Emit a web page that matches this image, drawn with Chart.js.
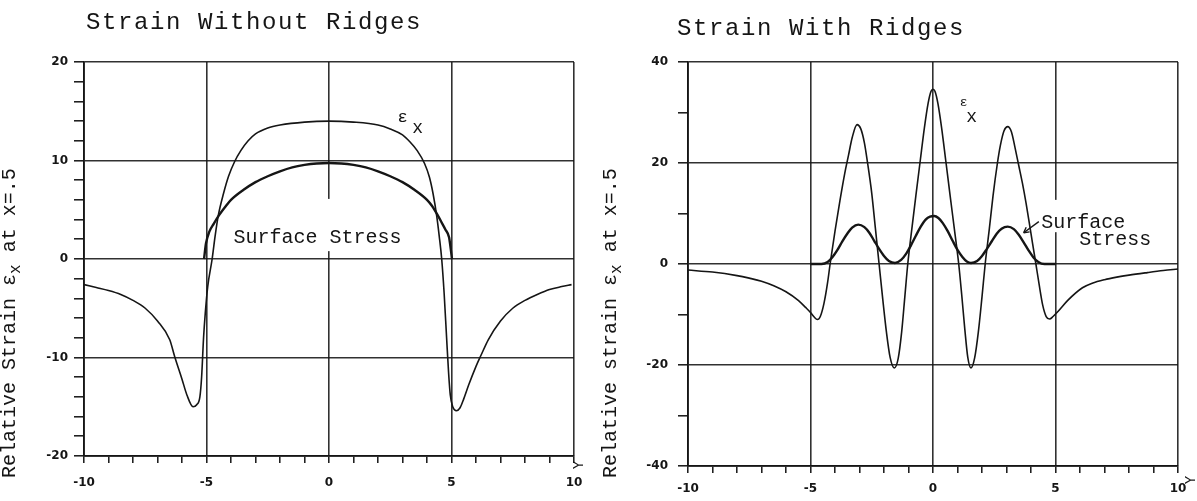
<!DOCTYPE html>
<html>
<head>
<meta charset="utf-8">
<title>Strain Without / With Ridges</title>
<script src="https://cdn.jsdelivr.net/npm/chart.js@4.4.1/dist/chart.umd.min.js"></script>
<style>
  html, body { margin: 0; padding: 0; background: #fff; }
  #wrap { position: relative; width: 1197px; height: 501px; overflow: hidden; background: #fff; }
  .panel { position: absolute; top: 0; }
</style>
</head>
<body>
<div id="wrap">
  <canvas id="noRidges" class="panel" style="left:0" width="600" height="501"></canvas>
  <canvas id="withRidges" class="panel" style="left:600px" width="597" height="501"></canvas>
</div>
<script>
// ---- strain without ridges (left) ----
const plainY = [-10, -9.5, -9, -8.5, -8, -7.5, -7, -6.5, -6.3, -6, -5.8, -5.55, -5.4, -5.27, -5.2, -5.12,
  -5.05, -4.95, -4.77, -4.65, -4.52, -4.3, -4.1, -3.85, -3.6, -3.3, -3, -2.5, -2, -1, 0, 1, 2, 2.5, 3,
  3.3, 3.6, 3.9, 4.1, 4.25, 4.4, 4.5, 4.6, 4.7, 4.8, 4.88, 4.95, 5.05, 5.2, 5.35, 5.5, 5.7, 6, 6.2,
  6.5, 7, 7.5, 8, 8.5, 9, 9.5, 9.9];
const plainStrain = [-2.6, -2.9, -3.2, -3.6, -4.2, -5.0, -6.3, -8.2, -9.9, -12.2, -13.8, -15.0, -14.8, -14.0, -12.0, -8.0,
  -5.5, -2.8, 0, 2.3, 4.4, 6.7, 8.4, 9.9, 11.0, 12.0, 12.7, 13.3, 13.6, 13.9, 14.0, 13.9, 13.6, 13.2, 12.6,
  11.9, 11.0, 9.7, 8.3, 6.6, 4.3, 2.3, 0, -3.5, -8.0, -11.5, -13.8, -15.0, -15.4, -15.1, -14.2, -12.8, -10.9, -9.8,
  -8.2, -6.3, -5.0, -4.2, -3.6, -3.1, -2.8, -2.6];
const plainStressY = [-5.1, -5.02, -4.88, -4.7, -4.5, -4.2, -4, -3.5, -3, -2.5, -2, -1.5, -1, -0.5, 0,
  0.5, 1, 1.5, 2, 2.5, 3, 3.5, 4, 4.2, 4.4, 4.6, 4.75, 4.9, 4.97, 5.02];
const plainStress = [0, 1.6, 2.8, 3.6, 4.4, 5.4, 6.0, 7.0, 7.8, 8.4, 8.9, 9.3, 9.55, 9.7, 9.75,
  9.7, 9.55, 9.3, 8.9, 8.4, 7.8, 7.0, 6.0, 5.4, 4.6, 3.7, 3.0, 2.2, 1.0, 0];

// ---- strain with ridges (right) ----
const ridgeY = [-10, -9, -8, -7.5, -7, -6.5, -6, -5.5, -5.2, -5, -4.85, -4.72, -4.6, -4.45, -4.3, -4.2,
  -4, -3.8, -3.6, -3.45, -3.3, -3.1, -2.95, -2.8, -2.67, -2.5, -2.35, -2.2, -2.05, -1.9, -1.75, -1.58,
  -1.42, -1.28, -1.15, -1.03, -0.85, -0.7, -0.52, -0.35, -0.2, -0.08, 0, 0.08, 0.2, 0.35, 0.52, 0.7,
  0.87, 1.05, 1.17, 1.3, 1.42, 1.55, 1.7, 1.85, 2, 2.13, 2.3, 2.45, 2.63, 2.75, 2.9, 3.05, 3.2, 3.35,
  3.5, 3.65, 3.8, 4, 4.2, 4.33, 4.48, 4.62, 4.76, 4.9, 5.1, 5.5, 6.1, 6.5, 7, 7.5, 8, 8.75, 9.4, 10];
const ridgeStrain = [-1.2, -1.6, -2.3, -2.8, -3.4, -4.3, -5.5, -7.2, -8.6, -9.6, -10.5, -11.0, -10.4, -7.8, -3.6, 0,
  6.5, 12.5, 18.0, 21.5, 25.0, 27.6, 26.8, 24.0, 20.0, 14.0, 7.0, 0, -7.0, -13.5, -18.5, -20.6,
  -18.7, -13.5, -6.5, 0, 7.5, 13.5, 20.5, 27.0, 31.8, 34.2, 34.6, 34.2, 31.8, 27.0, 20.5, 13.5,
  7.0, 0, -6.0, -13.0, -18.5, -20.6, -18.6, -13.5, -6.5, 0, 7.0, 13.5, 20.0, 23.5, 26.4, 27.2, 26.2, 23.0,
  19.5, 16.0, 12.0, 6.0, 0, -4.0, -8.2, -10.4, -10.9, -10.4, -9.4, -7.2, -4.7, -3.8, -3.1, -2.6, -2.2, -1.7, -1.3, -1.0];
const ridgeStressY = [-5, -4.55, -4.3, -4.1, -3.9, -3.7, -3.5, -3.3, -3.05, -2.8, -2.6, -2.4, -2.2, -2, -1.8,
  -1.55, -1.3, -1.1, -0.9, -0.7, -0.5, -0.3, -0.12, 0.05, 0.22, 0.4, 0.6, 0.8, 1, 1.2, 1.38, 1.55,
  1.8, 2, 2.2, 2.4, 2.6, 2.8, 3.05, 3.3, 3.5, 3.7, 3.9, 4.1, 4.3, 4.55, 5];
const ridgeStress = [0, 0, 0.4, 1.4, 2.8, 4.5, 6.0, 7.2, 7.8, 7.3, 6.2, 4.6, 3.0, 1.6, 0.6,
  0.2, 0.8, 2.0, 3.7, 5.6, 7.4, 8.8, 9.4, 9.5, 9.1, 8.1, 6.5, 4.6, 2.8, 1.4, 0.5, 0.2,
  0.6, 1.6, 3.0, 4.5, 6.0, 7.0, 7.4, 6.9, 5.8, 4.3, 2.7, 1.3, 0.4, 0, 0];

// ---- tick labels ----
const xMajor = [-10, -5, 0, 5, 10];
const plainYMajor = [-20, -10, 0, 10, 20];
const ridgeYMajor = [-40, -20, 0, 20, 40];

const INK = '#151515';
const GRID = 'rgba(20,20,20,0.88)';
const MONO = '"Liberation Mono", "DejaVu Sans Mono", monospace';
const tickFont = { family: '"DejaVu Sans", sans-serif', size: 12, weight: 'bold' };

function points(xs, ys) {
  return xs.map((x, i) => ({ x: x, y: ys[i] }));
}

function range(lo, hi, step) {
  const out = [];
  for (let i = 0; i <= Math.round((hi - lo) / step); i++) out.push(lo + i * step);
  return out;
}

// rotated y axis title with the subscript x
function drawAxisTitle(ctx, x, yStart, lead, tail) {
  ctx.save();
  ctx.translate(x, yStart);
  ctx.rotate(-Math.PI / 2);
  ctx.fillStyle = INK;
  ctx.textBaseline = 'middle';
  ctx.textAlign = 'left';
  ctx.font = '20px ' + MONO;
  ctx.fillText(lead, 0, 0);
  let cx = ctx.measureText(lead).width;
  ctx.fillText('ε', cx, 0);
  cx += ctx.measureText('ε').width;
  ctx.font = '16px ' + MONO;
  ctx.fillText('x', cx, 6);
  cx += ctx.measureText('x').width;
  ctx.font = '20px ' + MONO;
  ctx.fillText(tail, cx, 0);
  ctx.restore();
}

function decorations(cfg) {
  return {
    id: 'paperDecor',
    afterDraw(chart) {
      const ctx = chart.ctx;
      const sx = chart.scales.x, sy = chart.scales.y;
      const px = (v) => sx.getPixelForValue(v);
      const py = (v) => sy.getPixelForValue(v);
      ctx.save();

      // the typed label interrupts one vertical grid line
      if (cfg.gridGap) {
        const g = cfg.gridGap;
        ctx.fillStyle = '#fff';
        ctx.fillRect(px(g.x) - 3, py(g.from), 6, py(g.to) - py(g.from));
      }

      ctx.fillStyle = INK;
      ctx.strokeStyle = INK;

      // panel title
      ctx.font = '24px ' + MONO;
      ctx.letterSpacing = '1.6px';
      ctx.textBaseline = 'alphabetic';
      ctx.textAlign = 'left';
      ctx.fillText(cfg.title, cfg.titleX, cfg.titleY);
      ctx.letterSpacing = '0px';

      drawAxisTitle(ctx, cfg.axisTitleX, 478, cfg.axisLead, ' at x=.5');

      // epsilon-x label on the strain curve
      ctx.textAlign = 'center';
      ctx.textBaseline = 'middle';
      ctx.font = cfg.epsSize + 'px ' + MONO;
      ctx.fillText('ε', px(cfg.eps[0]), py(cfg.eps[1]));
      ctx.font = '18px ' + MONO;
      ctx.fillText('x', px(cfg.epsSub[0]), py(cfg.epsSub[1]));

      // surface stress label
      ctx.textAlign = 'left';
      ctx.font = '20px ' + MONO;
      cfg.stressText.forEach((t) => ctx.fillText(t.text, px(t.at[0]), py(t.at[1])));

      if (cfg.arrow) {
        const [x0, y0, x1, y1] = [px(cfg.arrow[0]), py(cfg.arrow[1]), px(cfg.arrow[2]), py(cfg.arrow[3])];
        ctx.lineWidth = 1.4;
        ctx.beginPath();
        ctx.moveTo(x0, y0);
        ctx.lineTo(x1, y1);
        ctx.stroke();
        const a = Math.atan2(y1 - y0, x1 - x0);
        ctx.beginPath();
        ctx.moveTo(x1, y1);
        ctx.lineTo(x1 - 6 * Math.cos(a - 0.5), y1 - 6 * Math.sin(a - 0.5));
        ctx.moveTo(x1, y1);
        ctx.lineTo(x1 - 6 * Math.cos(a + 0.5), y1 - 6 * Math.sin(a + 0.5));
        ctx.stroke();
      }

      // small rotated "Y" next to the x axis end
      ctx.save();
      ctx.translate(cfg.yMark[0], cfg.yMark[1]);
      ctx.rotate(-Math.PI / 2);
      ctx.font = '14px ' + MONO;
      ctx.textAlign = 'center';
      ctx.fillText('Y', 0, 0);
      ctx.restore();

      ctx.restore();
    }
  };
}

function createPanel(canvas, cfg) {
  const isMajor = (tick, list) => tick && list.includes(tick.value);
  return new Chart(canvas, {
    type: 'line',
    data: {
      datasets: [
        {
          label: 'εx',
          data: points(cfg.strainX, cfg.strainV),
          borderColor: INK,
          borderWidth: 1.6,
          pointRadius: 0,
          cubicInterpolationMode: 'monotone',
          fill: false
        },
        {
          label: 'Surface Stress',
          data: points(cfg.stressX, cfg.stressV),
          borderColor: INK,
          borderWidth: 2.4,
          pointRadius: 0,
          cubicInterpolationMode: 'monotone',
          fill: false
        }
      ]
    },
    options: {
      responsive: false,
      animation: false,
      events: [],
      layout: { padding: { left: 0, top: 62, right: cfg.padRight, bottom: 0 } },
      plugins: { legend: { display: false }, tooltip: { enabled: false } },
      scales: {
        x: {
          type: 'linear',
          min: -10,
          max: 10,
          afterBuildTicks: (s) => { s.ticks = range(-10, 10, 1).map((v) => ({ value: v })); },
          afterFit: (s) => { s.height = cfg.xHeight; },
          grid: {
            color: (c) => isMajor(c.tick, xMajor) ? GRID : 'transparent',
            lineWidth: 1.6,
            drawTicks: true,
            tickColor: INK,
            tickLength: 7,
            tickWidth: 1.5
          },
          border: { display: true, color: INK, width: 1.8 },
          ticks: {
            autoSkip: false,
            maxRotation: 0,
            padding: cfg.xPad,
            color: INK,
            font: tickFont,
            callback: (v) => xMajor.includes(v) ? String(v) : ''
          }
        },
        y: {
          type: 'linear',
          min: cfg.yMajor[0],
          max: cfg.yMajor[cfg.yMajor.length - 1],
          afterBuildTicks: (s) => { s.ticks = range(cfg.yMajor[0], cfg.yMajor[cfg.yMajor.length - 1], cfg.yMinor).map((v) => ({ value: v })); },
          afterFit: (s) => { s.width = cfg.yWidth; },
          grid: {
            color: (c) => isMajor(c.tick, cfg.yMajor) ? GRID : 'transparent',
            lineWidth: 1.6,
            drawTicks: true,
            tickColor: INK,
            tickLength: 10,
            tickWidth: 1.5
          },
          border: { display: true, color: INK, width: 1.8 },
          ticks: {
            autoSkip: false,
            padding: cfg.yPad,
            color: INK,
            font: tickFont,
            callback: (v) => cfg.yMajor.includes(v) ? String(v) : ''
          }
        }
      }
    },
    plugins: [decorations(cfg)]
  });
}

createPanel(document.getElementById('noRidges'), {
  strainX: plainY, strainV: plainStrain,
  stressX: plainStressY, stressV: plainStress,
  yMajor: plainYMajor, yMinor: 2,
  yWidth: 84, xHeight: 45, padRight: 26, xPad: 13, yPad: 6,
  title: 'Strain Without Ridges', titleX: 86, titleY: 29,
  axisTitleX: 10, axisLead: 'Relative Strain ',
  eps: [3.0, 14.4], epsSize: 17, epsSub: [3.62, 13.3],
  stressText: [{ text: 'Surface Stress', at: [-3.9, 2.2] }],
  gridGap: { x: 0, from: 6.1, to: 0.8 },
  arrow: null,
  yMark: [579, 465]
});

createPanel(document.getElementById('withRidges'), {
  strainX: ridgeY, strainV: ridgeStrain,
  stressX: ridgeStressY, stressV: ridgeStress,
  yMajor: ridgeYMajor, yMinor: 10,
  yWidth: 88, xHeight: 35, padRight: 19, xPad: 9, yPad: 10,
  title: 'Strain With Ridges', titleX: 77, titleY: 35,
  axisTitleX: 11, axisLead: 'Relative strain ',
  eps: [1.25, 32.0], epsSize: 13, epsSub: [1.58, 29.0],
  stressText: [{ text: 'Surface', at: [4.42, 8.1] }, { text: 'Stress', at: [5.97, 4.75] }],
  gridGap: { x: 5, from: 12.7, to: 6.3 },
  arrow: [4.32, 8.4, 3.7, 6.2],
  yMark: [591, 480]
});
</script>
</body>
</html>
